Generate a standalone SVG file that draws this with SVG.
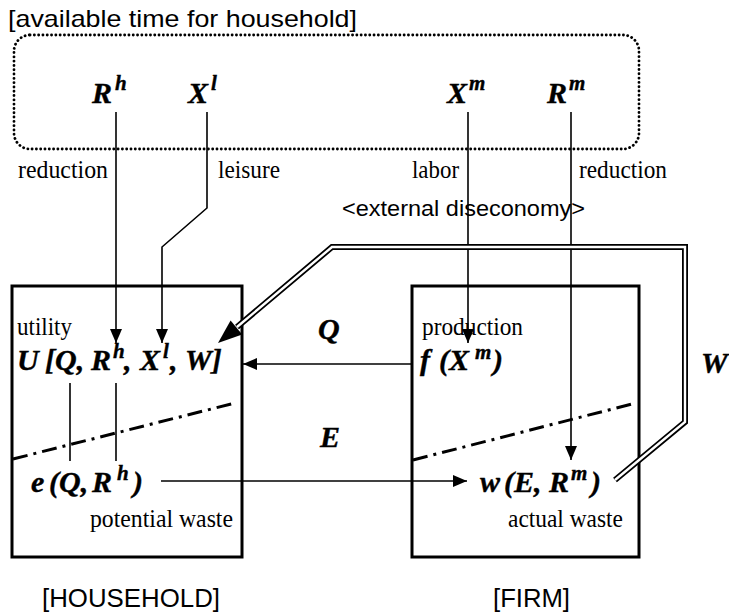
<svg xmlns="http://www.w3.org/2000/svg" width="729" height="614" viewBox="0 0 729 614">
<style>
.sans{font-family:"Liberation Sans",Arial,sans-serif;fill:#000}
.ser{font-family:"Liberation Serif","Times New Roman",serif;fill:#000;font-size:25px}
.m{font-family:"Liberation Serif","Times New Roman",serif;font-weight:bold;font-style:italic;font-size:30px;fill:#000;stroke:#000;stroke-width:0.4}
.sup{font-size:21px}
.ln{stroke:#000;stroke-width:1.6;fill:none}
.box{fill:none;stroke:#000;stroke-width:3}
.dd{stroke:#000;stroke-width:3;fill:none;stroke-dasharray:15 6 3 6}
.dbl{stroke:#000;stroke-width:6;fill:none;stroke-linejoin:miter}
.dblw{stroke:#fff;stroke-width:2.4;fill:none;stroke-linejoin:miter}
</style>
<defs>
<marker id="ah" markerWidth="14" markerHeight="12" refX="14" refY="6" orient="auto" markerUnits="userSpaceOnUse"><path d="M0,0 L14,6 L0,12 z" fill="#000"/></marker>
</defs>
<rect width="729" height="614" fill="#fff"/>

<g id="time">
<text class="sans" x="8" y="27" font-size="24" textLength="349" lengthAdjust="spacingAndGlyphs">[available time for household]</text>
<rect x="14" y="35" width="625" height="114" rx="16" fill="none" stroke="#000" stroke-width="2.8" stroke-linecap="round" stroke-dasharray="0.1 4.2"/>
<text class="m" x="92" y="103">R<tspan class="sup" x="115" dy="-13">h</tspan></text>
<text class="m" x="188" y="103">X<tspan class="sup" x="211" dy="-13">l</tspan></text>
<text class="m" x="447" y="103">X<tspan class="sup" x="469" dy="-13">m</tspan></text>
<text class="m" x="547" y="103">R<tspan class="sup" x="569" dy="-13">m</tspan></text>
</g>

<g id="labels">
<text class="ser" x="18" y="178" textLength="90" lengthAdjust="spacingAndGlyphs">reduction</text>
<text class="ser" x="218" y="178" textLength="62" lengthAdjust="spacingAndGlyphs">leisure</text>
<text class="ser" x="412" y="178" textLength="47" lengthAdjust="spacingAndGlyphs">labor</text>
<text class="ser" x="579" y="178" textLength="88" lengthAdjust="spacingAndGlyphs">reduction</text>
<text class="sans" x="342" y="216" font-size="22" textLength="243" lengthAdjust="spacingAndGlyphs">&lt;external diseconomy&gt;</text>
<text class="m" x="318" y="339">Q</text>
<text class="m" x="320" y="447">E</text>
<text class="m" x="701" y="373">W</text>
</g>

<g id="household">
<rect class="box" x="12" y="286" width="230" height="271"/>
<text class="ser" x="17" y="335" textLength="55" lengthAdjust="spacingAndGlyphs">utility</text>
<text class="m" x="17" y="370">U<tspan x="45">[Q,</tspan><tspan x="91">R</tspan><tspan class="sup" x="113" dy="-12">h</tspan><tspan x="124" dy="12">,</tspan><tspan x="140">X</tspan><tspan class="sup" x="163" dy="-12">l</tspan><tspan x="170" dy="12">,</tspan><tspan x="185">W]</tspan></text>
<line class="dd" x1="13" y1="459" x2="235" y2="403"/>
<text class="m" x="31" y="492">e<tspan x="49">(Q,</tspan><tspan x="92">R</tspan><tspan class="sup" x="117" dy="-12">h</tspan><tspan x="133" dy="12">)</tspan></text>
<text class="ser" x="90" y="527" textLength="143" lengthAdjust="spacingAndGlyphs">potential waste</text>
<text class="sans" x="42" y="607" font-size="26" textLength="178" lengthAdjust="spacingAndGlyphs">[HOUSEHOLD]</text>
</g>

<g id="firm">
<rect class="box" x="412" y="286" width="227" height="271"/>
<text class="ser" x="422" y="335" textLength="101" lengthAdjust="spacingAndGlyphs">production</text>
<text class="m" x="420" y="370">f<tspan x="439">(X</tspan><tspan class="sup" x="475" dy="-11">m</tspan><tspan x="493" dy="11">)</tspan></text>
<line class="dd" x1="413" y1="460" x2="632" y2="404"/>
<text class="m" x="480" y="492">w<tspan x="504">(E,</tspan><tspan x="549">R</tspan><tspan class="sup" x="571" dy="-12">m</tspan><tspan x="591" dy="12">)</tspan></text>
<text class="ser" x="508" y="527" textLength="115" lengthAdjust="spacingAndGlyphs">actual waste</text>
<text class="sans" x="493" y="607" font-size="26" textLength="77" lengthAdjust="spacingAndGlyphs">[FIRM]</text>
</g>

<g id="connectors">
<line class="ln" x1="116" y1="112" x2="116" y2="343" marker-end="url(#ah)"/>
<polyline class="ln" points="207,112 207,208 162,247 162,343" marker-end="url(#ah)"/>
<line class="ln" x1="468" y1="112" x2="468" y2="343" marker-end="url(#ah)"/>
<line class="ln" x1="571" y1="112" x2="571" y2="460" marker-end="url(#ah)"/>
<line class="ln" x1="412" y1="364" x2="243" y2="364" marker-end="url(#ah)"/>
<line class="ln" x1="70" y1="383" x2="70" y2="461"/>
<line class="ln" x1="116" y1="383" x2="116" y2="461"/>
<line class="ln" x1="161" y1="481" x2="467" y2="481" marker-end="url(#ah)"/>
<polyline class="dbl" points="615,480 685,422 685,247 332,247 237,327"/>
<polyline class="dblw" points="615,480 685,422 685,247 332,247 237,327"/>
<polygon points="218,343 242.2,334.4 230.6,320.6" fill="#000"/>
</g>
</svg>
